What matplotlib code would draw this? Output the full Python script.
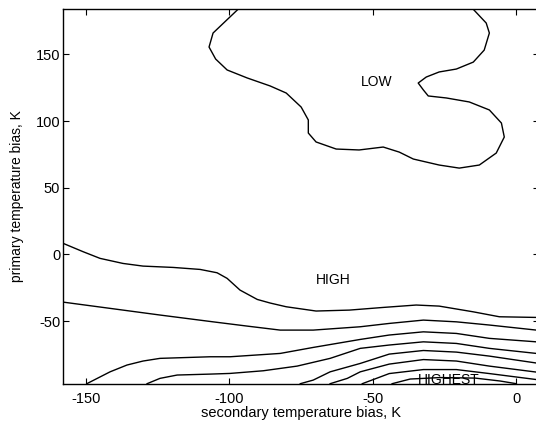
import numpy as np
import matplotlib
matplotlib.use("Agg")
import matplotlib.pyplot as plt

plt.rcParams['font.family'] = ['Liberation Sans', 'DejaVu Sans']
plt.rcParams['axes.unicode_minus'] = False

# contour lines (secondary bias, primary bias)
low_x = [-97.0, -105.7, -107.1, -104.8, -100.8, -93.8, -85.8, -80.2, -75.0, -72.5, -72.5,
         -69.8, -62.8, -54.8, -46.4, -40.8, -35.9, -26.9, -19.9, -12.9, -7.0, -4.2, -5.2,
         -9.4, -16.4, -24.4, -30.7, -32.4, -34.2, -31.4, -26.9, -20.9, -15.0, -11.2, -9.4,
         -10.5, -15.0]
low_y = [183.8, 166.0, 155.5, 146.5, 138.3, 132.3, 126.3, 121.0, 110.5, 100.8, 91.0,
         84.3, 79.0, 78.3, 80.5, 76.7, 71.5, 67.0, 64.7, 67.0, 76.0, 88.0, 98.5,
         108.3, 114.3, 117.3, 118.8, 123.3, 128.5, 133.0, 136.8, 139.0, 144.2, 153.2, 166.0,
         173.5, 183.8]

c1_x = [-158.0, -151.0, -145.1, -137.1, -130.1, -119.6, -110.2, -104.3, -100.8, -96.3,
        -90.3, -85.8, -80.2, -69.8, -58.2, -46.4, -34.9, -26.9, -15.0, -5.9, 7.0]
c1_y = [8.3, 2.0, -3.0, -6.8, -8.8, -9.8, -11.3, -13.8, -18.0, -26.8,
        -33.8, -36.5, -39.3, -42.5, -41.8, -39.8, -38.0, -38.8, -43.1, -46.8, -47.3]

c2_x = [-158.0, -141.6, -124.2, -105.7, -93.8, -82.3, -70.8, -54.4, -44.3, -32.4, -20.9, -9.4, 7.0]
c2_y = [-35.8, -40.5, -45.5, -50.6, -53.8, -56.8, -56.8, -54.3, -51.8, -49.3, -50.6, -53.0, -56.8]

c3_x = [-149.7, -141.6, -135.7, -130.1, -124.2, -106.7, -99.8, -82.3, -70.8, -54.4,
        -44.3, -32.4, -20.9, -9.4, 7.0]
c3_y = [-97.0, -88.1, -83.0, -80.0, -78.0, -76.8, -76.8, -74.3, -69.8, -63.8,
        -60.5, -58.1, -59.3, -63.0, -65.6]

c4_x = [-128.7, -124.2, -118.2, -106.7, -99.8, -88.2, -76.4, -64.9, -54.4, -44.3,
        -32.4, -20.9, -9.4, 7.0]
c4_y = [-97.0, -93.0, -90.5, -89.8, -89.3, -87.3, -83.8, -78.0, -70.5, -68.0,
        -65.6, -66.8, -70.5, -74.3]

c5_x = [-75.3, -70.8, -64.9, -54.4, -44.3, -32.4, -20.9, -9.4, 7.0]
c5_y = [-97.0, -94.3, -88.1, -81.8, -74.8, -72.1, -73.3, -76.3, -81.5]

c6_x = [-64.9, -58.9, -54.4, -44.3, -32.4, -20.9, -9.4, 7.0]
c6_y = [-97.0, -93.0, -88.1, -82.3, -78.9, -80.0, -83.8, -88.3]

c7_x = [-53.7, -44.3, -32.4, -20.9, -9.4, 7.0]
c7_y = [-97.0, -89.4, -86.4, -86.4, -89.4, -93.9]

c8_x = [-43.3, -37.0, -26.5, -14.3, -5.6, 0.0]
c8_y = [-97.0, -93.5, -92.4, -92.8, -95.0, -97.0]

lines = [(low_x, low_y), (c1_x, c1_y), (c2_x, c2_y), (c3_x, c3_y), (c4_x, c4_y),
         (c5_x, c5_y), (c6_x, c6_y), (c7_x, c7_y), (c8_x, c8_y)]

labels = ["LOW", "HIGH", "HIGHEST"]
label_x = [-48.8, -63.8, -23.7]
label_y = [129.0, -19.3, -94.0]

fig = plt.figure(figsize=(5.36, 4.25), dpi=100)
ax = fig.add_axes([63 / 536, 41.3 / 425, 476 / 536, 374.4 / 425])

for xs, ys in lines:
    ax.plot(xs, ys, color='black', lw=1.0)

for t, x, y in zip(labels, label_x, label_y):
    ax.text(x, y, t, ha='center', va='center', fontsize=10)

ax.set_xlim(-158, 7.9)
ax.set_ylim(-97, 183.8)
ax.set_xticks([-150, -100, -50, 0])
ax.set_yticks([-50, 0, 50, 100, 150])
ax.tick_params(direction='in', length=4, width=0.8, top=True, right=True,
               labelsize=10.5)
ax.tick_params(axis='y', pad=2)
ax.tick_params(axis='x', pad=6)
for s in ax.spines.values():
    s.set_linewidth(1.0)

ax.set_xlabel("secondary temperature bias, K", fontsize=10.5, labelpad=0)
ax.set_ylabel("primary temperature bias, K", fontsize=10, labelpad=8)

fig.savefig("out.png", dpi=100)
